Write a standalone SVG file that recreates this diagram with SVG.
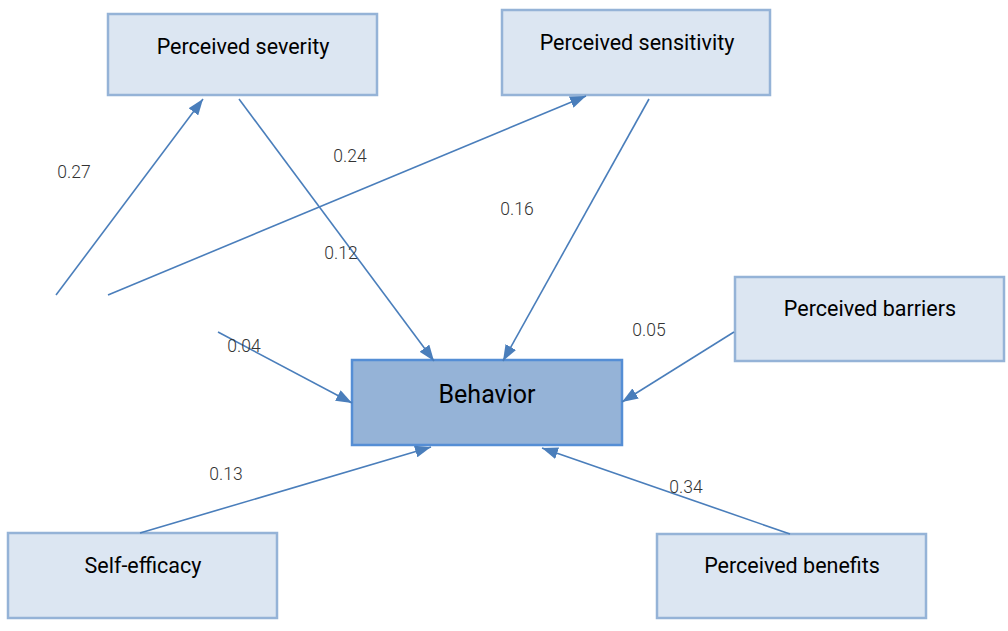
<svg xmlns="http://www.w3.org/2000/svg" width="1008" height="631" viewBox="0 0 1008 631">
<defs>
<marker id="arr" markerUnits="userSpaceOnUse" markerWidth="16" markerHeight="12" refX="16" refY="6" orient="auto">
<path d="M0,0 L16,6 L0,12 z" fill="#4a7ebb"/>
</marker>
<style>
.node rect{fill:#dce6f2;stroke:#95b3d7;stroke-width:2.5}
.node text{font-family:Roboto,"Liberation Sans",sans-serif;font-size:21.5px;fill:#000;text-anchor:middle}
#behavior rect{fill:#95b3d7;stroke:#558ed5;stroke-width:2.5}
#behavior text{font-size:25px}
.conn line{stroke:#4a7ebb;stroke-width:1.6}
.conn line.a{marker-end:url(#arr)}
.lbl{font-family:Roboto,"Liberation Sans",sans-serif;font-size:17.5px;fill:#333;text-anchor:middle;font-weight:300}
</style>
</defs>
<rect width="1008" height="631" fill="#fff"/>
<g id="severity" class="node"><rect x="108" y="14" width="269" height="81"/><text x="243" y="54">Perceived severity</text></g>
<g id="sensitivity" class="node"><rect x="502" y="10" width="268" height="85"/><text x="637" y="50">Perceived sensitivity</text></g>
<g id="barriers" class="node"><rect x="735" y="277" width="269" height="84"/><text x="870" y="316">Perceived barriers</text></g>
<g id="behavior" class="node"><rect x="352" y="360" width="270" height="85"/><text x="487" y="403">Behavior</text></g>
<g id="selfefficacy" class="node"><rect x="8" y="533" width="269" height="85"/><text x="143" y="573">Self-efficacy</text></g>
<g id="benefits" class="node"><rect x="657" y="534" width="269" height="84"/><text x="792" y="573">Perceived benefits</text></g>
<g id="connectors" class="conn">
<line class="a" x1="56" y1="295" x2="203" y2="99"/>
<line class="a" x1="108" y1="295" x2="586" y2="96"/>
<line class="a" x1="239" y1="99" x2="434" y2="361"/>
<line class="a" x1="649" y1="99" x2="503" y2="361"/>
<line class="a" x1="218" y1="332" x2="352" y2="403"/>
<line class="a" x1="734" y1="332" x2="622" y2="402"/>
<line class="a" x1="140" y1="533" x2="431" y2="447"/>
<line class="a" x1="790" y1="534" x2="542" y2="448"/>
</g>
<g id="labels">
<text class="lbl" x="74" y="178">0.27</text>
<text class="lbl" x="350" y="162">0.24</text>
<text class="lbl" x="517" y="215">0.16</text>
<text class="lbl" x="341" y="259">0.12</text>
<text class="lbl" x="244" y="352">0.04</text>
<text class="lbl" x="649" y="336">0.05</text>
<text class="lbl" x="226" y="480">0.13</text>
<text class="lbl" x="686" y="493">0.34</text>
</g>
</svg>
